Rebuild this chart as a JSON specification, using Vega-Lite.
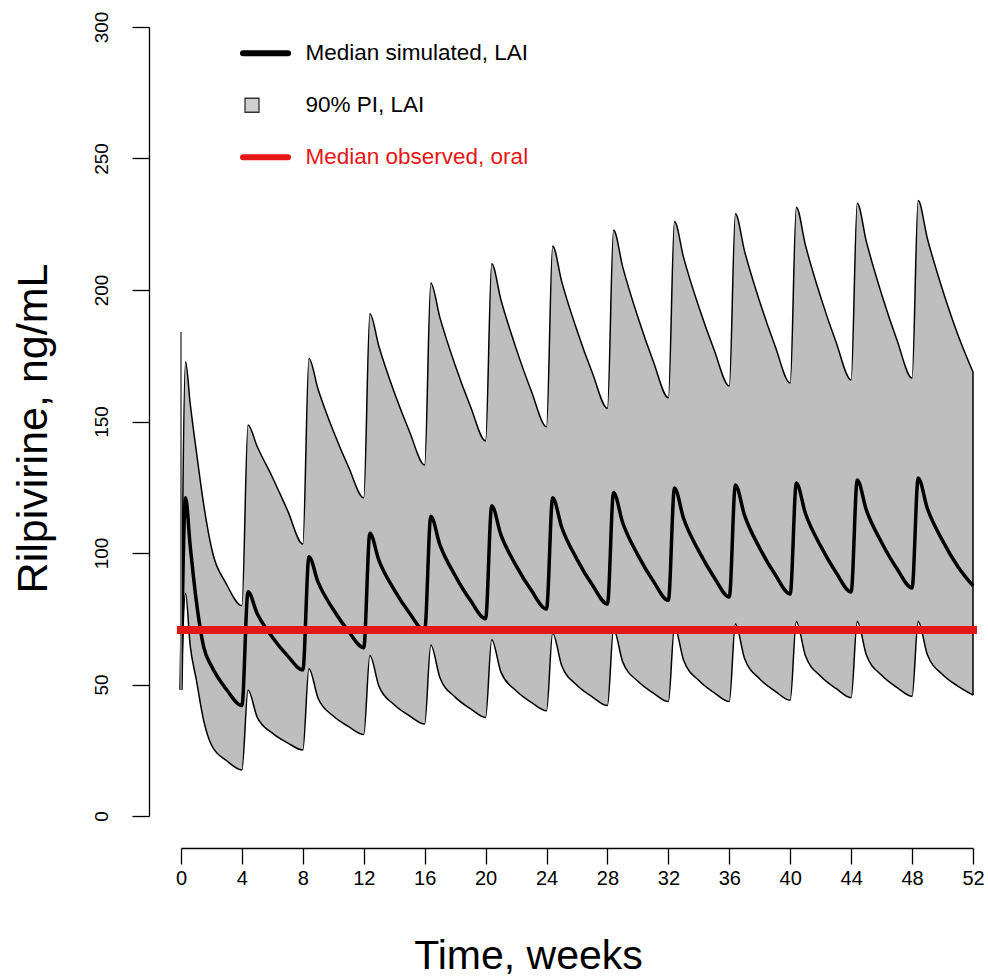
{
  "$schema": "https://vega.github.io/schema/vega-lite/v6.json",
  "autosize": "none",
  "width": 792,
  "height": 789,
  "padding": {"left": 181, "top": 27, "right": 15, "bottom": 162},
  "background": "white",
  "config": {
    "view": {"stroke": null},
    "font": "Liberation Sans",
    "axis": {"grid": false, "domainColor": "black", "tickColor": "black", "labelColor": "black", "titleColor": "black", "domainWidth": 1.3, "tickWidth": 1.3, "labelFont": "Liberation Sans", "titleFont": "Liberation Sans", "titleFontWeight": "normal"}
  },
  "datasets": {
    "pk": [
      {"t": 0, "lo": 48, "med": 48, "hi": 48},
      {"t": 0.3, "lo": 84.7, "med": 121, "hi": 172.7},
      {"t": 0.6, "lo": 65, "med": 103, "hi": 157},
      {"t": 1.0, "lo": 52, "med": 82, "hi": 139},
      {"t": 1.5, "lo": 36, "med": 64, "hi": 118},
      {"t": 2.0, "lo": 27, "med": 57, "hi": 102},
      {"t": 3.0, "lo": 21, "med": 48, "hi": 88},
      {"t": 4.0, "lo": 17.5, "med": 42, "hi": 80},
      {"t": 4.4, "lo": 47.9, "med": 85.3, "hi": 148.7},
      {"t": 5, "lo": 37.6, "med": 77.0, "hi": 140.5},
      {"t": 6, "lo": 31.5, "med": 68.0, "hi": 128.8},
      {"t": 7, "lo": 27.8, "med": 60.9, "hi": 116.1},
      {"t": 8, "lo": 25.1, "med": 55.5, "hi": 103.4},
      {"t": 8.4, "lo": 56, "med": 98.6, "hi": 174},
      {"t": 9, "lo": 44.8, "med": 88.9, "hi": 162.3},
      {"t": 10, "lo": 38.0, "med": 78.5, "hi": 146.4},
      {"t": 11, "lo": 34.0, "med": 70.2, "hi": 132.7},
      {"t": 12, "lo": 31, "med": 64, "hi": 121},
      {"t": 12.4, "lo": 61, "med": 107.5, "hi": 191},
      {"t": 13, "lo": 49.3, "med": 97.1, "hi": 178.4},
      {"t": 14, "lo": 42.3, "med": 86.0, "hi": 161.1},
      {"t": 15, "lo": 38.1, "med": 77.2, "hi": 146.2},
      {"t": 16, "lo": 35, "med": 70.5, "hi": 133.5},
      {"t": 16.4, "lo": 65, "med": 114, "hi": 202.7},
      {"t": 17, "lo": 52.6, "med": 103.1, "hi": 189.5},
      {"t": 18, "lo": 45.2, "med": 91.4, "hi": 171.4},
      {"t": 19, "lo": 40.8, "med": 82.0, "hi": 155.8},
      {"t": 20, "lo": 37.5, "med": 75, "hi": 142.6},
      {"t": 20.4, "lo": 67, "med": 118, "hi": 210},
      {"t": 21, "lo": 54.8, "med": 107.0, "hi": 196.4},
      {"t": 22, "lo": 47.6, "med": 95.2, "hi": 177.8},
      {"t": 23, "lo": 43.2, "med": 85.8, "hi": 161.6},
      {"t": 24, "lo": 40, "med": 78.7, "hi": 148},
      {"t": 24.4, "lo": 69.5, "med": 121, "hi": 216.7},
      {"t": 25, "lo": 57.1, "med": 109.7, "hi": 203.1},
      {"t": 26, "lo": 49.7, "med": 97.6, "hi": 184.6},
      {"t": 27, "lo": 45.3, "med": 87.9, "hi": 168.6},
      {"t": 28, "lo": 42, "med": 80.6, "hi": 155},
      {"t": 28.4, "lo": 71, "med": 123, "hi": 222.8},
      {"t": 29, "lo": 58.6, "med": 111.5, "hi": 208.8},
      {"t": 30, "lo": 51.2, "med": 99.2, "hi": 189.6},
      {"t": 31, "lo": 46.8, "med": 89.4, "hi": 173.0},
      {"t": 32, "lo": 43.5, "med": 82, "hi": 159},
      {"t": 32.4, "lo": 72, "med": 124.7, "hi": 226},
      {"t": 33, "lo": 59.2, "med": 113.1, "hi": 212.3},
      {"t": 34, "lo": 51.5, "med": 100.7, "hi": 193.5},
      {"t": 35, "lo": 46.9, "med": 90.8, "hi": 177.3},
      {"t": 36, "lo": 43.5, "med": 83.3, "hi": 163.5},
      {"t": 36.4, "lo": 73, "med": 125.9, "hi": 229},
      {"t": 37, "lo": 59.9, "med": 114.3, "hi": 214.8},
      {"t": 38, "lo": 52.1, "med": 101.8, "hi": 195.5},
      {"t": 39, "lo": 47.5, "med": 91.9, "hi": 178.8},
      {"t": 40, "lo": 44, "med": 84.4, "hi": 164.6},
      {"t": 40.4, "lo": 74, "med": 126.6, "hi": 231.5},
      {"t": 41, "lo": 60.9, "med": 115.0, "hi": 217.0},
      {"t": 42, "lo": 53.1, "med": 102.6, "hi": 197.3},
      {"t": 43, "lo": 48.5, "med": 92.7, "hi": 180.3},
      {"t": 44, "lo": 45, "med": 85.2, "hi": 165.8},
      {"t": 44.4, "lo": 74, "med": 127.8, "hi": 233},
      {"t": 45, "lo": 61.2, "med": 116.3, "hi": 218.4},
      {"t": 46, "lo": 53.5, "med": 104.0, "hi": 198.4},
      {"t": 47, "lo": 48.9, "med": 94.1, "hi": 181.1},
      {"t": 48, "lo": 45.5, "med": 86.7, "hi": 166.5},
      {"t": 48.4, "lo": 74, "med": 128.5, "hi": 234},
      {"t": 49, "lo": 61.4, "med": 117.0, "hi": 219.7},
      {"t": 50, "lo": 53.8, "med": 104.7, "hi": 200.1},
      {"t": 51, "lo": 49.4, "med": 94.9, "hi": 183.1},
      {"t": 52, "lo": 46, "med": 87.5, "hi": 168.8}
    ],
    "oral": [{"t": 0, "v": 70.7}, {"t": 52, "v": 70.7}],
    "start": [{"t": 0, "lo": 48, "hi": 184}],
    "end": [{"t": 52, "lo": 46, "hi": 168.8}]
  },
  "encoding": {
    "x": {"field": "t", "type": "quantitative", "scale": {"domain": [0, 52], "nice": false, "zero": false},
      "axis": {"values": [0, 4, 8, 12, 16, 20, 24, 28, 32, 36, 40, 44, 48, 52], "offset": 32, "tickSize": 16, "labelFontSize": 20, "labelPadding": 4, "labelFlush": false, "title": "Time, weeks", "titleFontSize": 41, "titlePadding": 48, "titleX": 347}}
  },
  "layer": [
    {
      "data": {"name": "pk"},
      "mark": {"type": "area", "interpolate": "monotone", "opacity": 1, "fill": "#bebebe"},
      "encoding": {
        "y": {"field": "lo", "type": "quantitative", "scale": {"domain": [0, 300], "nice": false},
          "axis": {"values": [0, 50, 100, 150, 200, 250, 300], "offset": 32, "tickSize": 17, "labelFontSize": 19, "labelAngle": -90, "labelAlign": "center", "labelBaseline": "bottom", "labelPadding": 21, "title": "Rilpivirine, ng/mL", "titleFontSize": 43, "titlePadding": 37, "titleY": 401}},
        "y2": {"field": "hi"}
      }
    },
    {
      "data": {"name": "pk"},
      "mark": {"type": "line", "interpolate": "monotone", "color": "black", "strokeWidth": 1.5},
      "encoding": {"y": {"field": "hi", "type": "quantitative"}}
    },
    {
      "data": {"name": "pk"},
      "mark": {"type": "line", "interpolate": "monotone", "color": "black", "strokeWidth": 1.5},
      "encoding": {"y": {"field": "lo", "type": "quantitative"}}
    },
    {
      "data": {"name": "pk"},
      "mark": {"type": "line", "interpolate": "monotone", "strokeWidth": 3.5},
      "encoding": {
        "y": {"field": "med", "type": "quantitative"},
        "color": {"datum": "Median simulated, LAI", "type": "nominal",
          "scale": {"domain": ["Median simulated, LAI", "90% PI, LAI", "Median observed, oral"], "range": ["black", "#333333", "#e51616"]},
          "legend": {
            "orient": "none", "legendX": 62, "legendY": 15, "title": null,
            "labelFont": "Liberation Sans", "labelFontSize": 22.5, "labelColor": "black", "labelLimit": 0,
            "symbolSize": 2025, "symbolType": "stroke", "labelOffset": 40, "rowPadding": 28,
            "encoding": {
              "symbols": {
                "shape": {"value": {"expr": "datum.value === '90% PI, LAI' ? 'square' : 'stroke'"}},
                "size": {"value": {"expr": "datum.value === '90% PI, LAI' ? 196 : 2025"}},
                "fill": {"value": {"expr": "datum.value === '90% PI, LAI' ? '#cfcfcf' : 'transparent'"}},
                "strokeWidth": {"value": {"expr": "datum.value === '90% PI, LAI' ? 1.3 : 6"}},
                "x": {"value": {"expr": "datum.value === '90% PI, LAI' ? 9 : 22.5"}},
                "strokeCap": {"value": "round"},
                "opacity": {"value": 1}
              },
              "labels": {
                "fill": {"value": {"expr": "datum.value === 'Median observed, oral' ? '#e51616' : 'black'"}}
              }
            }
          }}
      }
    },
    {
      "data": {"name": "start"},
      "mark": {"type": "rule", "color": "#777777", "strokeWidth": 2},
      "encoding": {"y": {"field": "lo", "type": "quantitative"}, "y2": {"field": "hi"}}
    },
    {
      "data": {"name": "end"},
      "mark": {"type": "rule", "color": "black", "strokeWidth": 1.5},
      "encoding": {"y": {"field": "lo", "type": "quantitative"}, "y2": {"field": "hi"}}
    },
    {
      "data": {"name": "oral"},
      "mark": {"type": "line", "strokeWidth": 8, "strokeCap": "square"},
      "encoding": {"y": {"field": "v", "type": "quantitative"}, "color": {"datum": "Median observed, oral", "type": "nominal", "legend": null}}
    }
  ]
}
